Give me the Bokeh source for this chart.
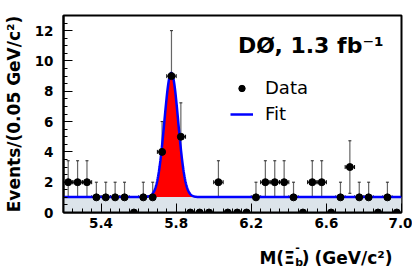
import numpy as np
from bokeh.plotting import figure
from bokeh.layouts import column
from bokeh.models import (Range1d, FixedTicker, Whisker, TeeHead, ColumnDataSource,
                          Label, Legend, LegendItem, PrintfTickFormatter)
from bokeh.embed import file_html
from bokeh.resources import INLINE

# ---- data ----
bin_centers = [5.225, 5.275, 5.325, 5.375, 5.425, 5.475, 5.525, 5.575, 5.625, 5.675,
               5.725, 5.775, 5.825, 5.875, 5.925, 5.975, 6.025, 6.075, 6.125, 6.175,
               6.225, 6.275, 6.325, 6.375, 6.425, 6.475, 6.525, 6.575, 6.625, 6.675,
               6.725, 6.775, 6.825, 6.875, 6.925, 6.975]
counts = [2, 2, 2, 1, 1, 1, 1, 0, 1, 1,
          4, 9, 5, 0, 0, 0, 2, 0, 0, 0,
          1, 2, 2, 2, 1, 0, 2, 2, 0, 1,
          3, 1, 1, 0, 1, 0]
bin_width = 0.05

# fit parameters (Gaussian signal + flat background)
fit_mean = 5.774
fit_sigma = 0.037
fit_yield = 15.2
fit_bkg = 1.02

x_major = [5.4, 5.8, 6.2, 6.6, 7.0]
y_major = [0, 2, 4, 6, 8, 10, 12]

# ---- derived ----
xs = np.array(bin_centers)
ns = np.array(counts, dtype=float)
err = np.sqrt(ns)
nz = ns > 0

fx = np.linspace(5.2, 7.0, 901)
fy = fit_bkg + fit_yield * bin_width / (fit_sigma * np.sqrt(2 * np.pi)) * np.exp(-0.5 * ((fx - fit_mean) / fit_sigma) ** 2)
fb = np.full_like(fx, fit_bkg)

p = figure(width=412, height=234, x_range=Range1d(5.2, 7.0), y_range=Range1d(0, 13),
           output_backend="svg", toolbar_location=None,
           min_border_left=60, min_border_right=11, min_border_top=15, min_border_bottom=22)
p.grid.visible = False
p.outline_line_color = "black"
p.outline_line_width = 2

# background band and signal area
p.varea(x=fx, y1=np.zeros_like(fx), y2=fb, color="#dce4ea")
p.varea(x=fx, y1=fb, y2=fy, color="#ff0000")
fit_line = p.line(fx, fy, line_color="#0000ff", line_width=2.5)

# error bars
src_v = ColumnDataSource(dict(x=xs[nz], lo=(ns - err)[nz], hi=(ns + err)[nz]))
p.add_layout(Whisker(source=src_v, base="x", lower="lo", upper="hi", dimension="height",
                     line_color="#666666", line_width=1.2,
                     upper_head=TeeHead(size=3, line_color="#222222", line_width=1),
                     lower_head=TeeHead(size=3, line_color="#222222", line_width=1)))
src_h = ColumnDataSource(dict(y=ns[nz], lo=(xs - bin_width / 2)[nz], hi=(xs + bin_width / 2)[nz]))
p.add_layout(Whisker(source=src_h, base="y", lower="lo", upper="hi", dimension="width",
                     line_color="black", line_width=1,
                     upper_head=TeeHead(size=4, line_color="black", line_width=1),
                     lower_head=TeeHead(size=4, line_color="black", line_width=1)))

pts = p.scatter(xs, ns, size=7, color="black")

# axes
p.xaxis.ticker = FixedTicker(ticks=x_major, minor_ticks=[5.2 + 0.05 * i for i in range(37)])
p.yaxis.ticker = FixedTicker(ticks=y_major, minor_ticks=[0.5 * i for i in range(27)])
p.xaxis.formatter = PrintfTickFormatter(format="%.1f")
for ax in (p.xaxis, p.yaxis):
    ax.major_tick_in = 9
    ax.major_tick_out = 0
    ax.minor_tick_in = 4
    ax.minor_tick_out = 0
    ax.axis_line_width = 2
    ax.axis_line_color = "black"
    ax.major_tick_line_color = "black"
    ax.minor_tick_line_color = "black"
    ax.major_label_text_font = "DejaVu Sans"
    ax.major_label_text_font_style = "bold"
    ax.major_label_text_font_size = "13.5px"
    ax.major_label_text_color = "black"
p.xaxis.major_label_standoff = 5
p.yaxis.major_label_standoff = 10
p.yaxis.axis_label = "Events/(0.05 GeV/c\u00b2)"
p.yaxis.axis_label_text_font = "DejaVu Sans"
p.yaxis.axis_label_text_font_style = "bold"
p.yaxis.axis_label_text_font_size = "17px"
p.yaxis.axis_label_text_color = "black"
p.yaxis.axis_label_standoff = 8

common = dict(text_font="DejaVu Sans", text_font_style="bold", text_color="black",
              text_baseline="alphabetic")

# experiment label
p.add_layout(Label(x=6.129, y=11.0, text="D\u00d8, 1.3 fb\u207b\u00b9", text_align="left",
                   text_font_size="22px", **common))

legend = Legend(items=[LegendItem(label="Data", renderers=[pts]),
                       LegendItem(label="Fit", renderers=[fit_line])],
                location=(167, 88), padding=0, margin=0, spacing=5,
                glyph_width=23, glyph_height=16, label_height=20, label_standoff=12,
                label_text_font="DejaVu Sans", label_text_font_size="18px",
                label_text_color="black",
                background_fill_alpha=0, border_line_alpha=0)
p.add_layout(legend)

# x-axis title strip (pixel coordinates of the strip, y measured downward)
t = figure(width=412, height=38, x_range=Range1d(0, 412), y_range=Range1d(38, 0),
           output_backend="svg", toolbar_location=None,
           x_axis_location=None, y_axis_location=None,
           min_border_left=0, min_border_right=0, min_border_top=0, min_border_bottom=0)
t.grid.visible = False
t.outline_line_color = None
t.add_layout(Label(x=282, y=23, text="M(\u039e", text_align="right", text_font_size="17px", **common))
t.add_layout(Label(x=282.5, y=28, text="b", text_align="left", text_font_size="11px", **common))
t.add_layout(Label(x=282.5, y=12, text="-", text_align="left", text_font_size="11px", **common))
t.add_layout(Label(x=290.5, y=23, text=")", text_align="left", text_font_size="17px", **common))
t.add_layout(Label(x=401, y=23, text="(GeV/c\u00b2)", text_align="right", text_font_size="17px", **common))

layout = column(p, t, spacing=0)
open("out.html", "w").write(file_html(layout, INLINE))
